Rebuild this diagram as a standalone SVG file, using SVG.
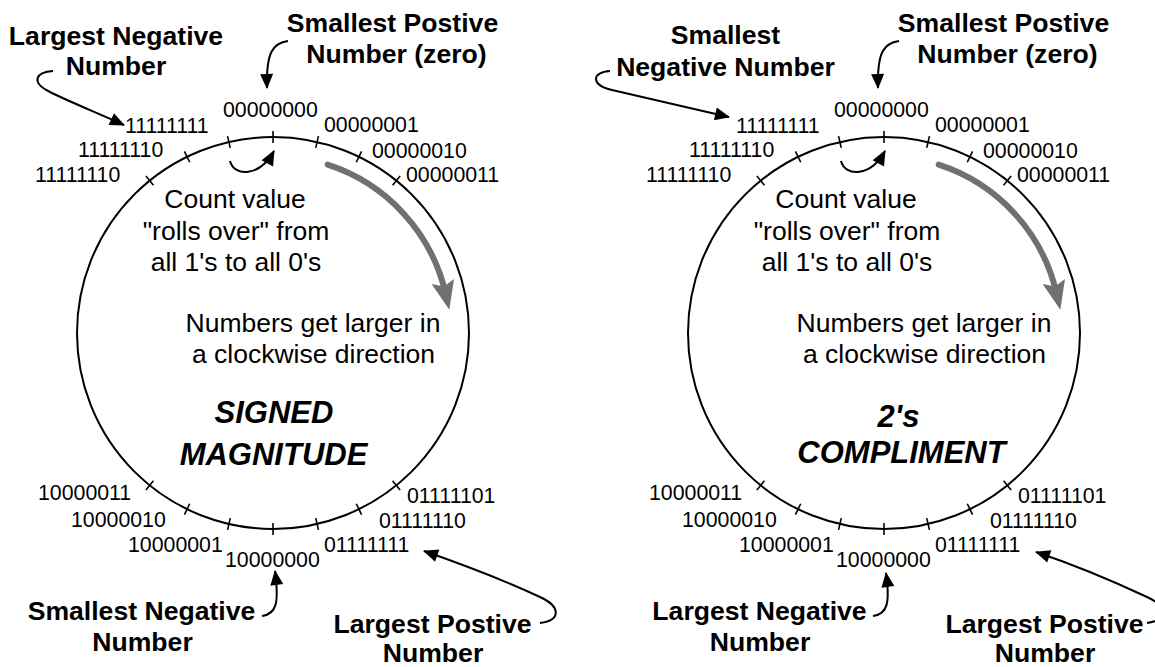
<svg xmlns="http://www.w3.org/2000/svg" width="1155" height="667" viewBox="0 0 1155 667">
<style>
.ring{fill:none;stroke:#000;stroke-width:2}
.tick{stroke:#000;stroke-width:1.6}
text{font-family:"Liberation Sans",Arial,Helvetica,sans-serif;fill:#000}
.bits{font-size:21.3px}
.lbl{font-size:26.6px;font-weight:bold;text-anchor:middle}
.note{font-size:26.5px;text-anchor:middle}
.title{font-size:31px;font-weight:bold;font-style:italic;text-anchor:middle}
.conn{fill:none;stroke:#000;stroke-width:2;marker-end:url(#ah)}
.gray{fill:none;stroke:#707070;stroke-width:6;stroke-linecap:round;marker-end:url(#gah)}
</style>
<defs>
<marker id="ah" markerUnits="userSpaceOnUse" markerWidth="16" markerHeight="14" refX="14" refY="6.5" orient="auto" overflow="visible">
<path d="M0,0 L15,6.5 L0,13 z" fill="#000"/>
</marker>
<marker id="gah" markerUnits="userSpaceOnUse" markerWidth="30" markerHeight="24" refX="12" refY="11.5" orient="auto" overflow="visible">
<path d="M0,0 L29,11.5 L0,23 L5,11.5 z" fill="#707070"/>
</marker>
</defs>

<g id="signed-magnitude">
<circle class="ring" cx="273" cy="333" r="196"/>
<g id="ticks-left">
<line class="tick" x1="273" y1="131" x2="273" y2="143"/>
<line class="tick" x1="273" y1="131" x2="273" y2="143" transform="rotate(13 273 333)"/>
<line class="tick" x1="273" y1="131" x2="273" y2="143" transform="rotate(26 273 333)"/>
<line class="tick" x1="273" y1="131" x2="273" y2="143" transform="rotate(39 273 333)"/>
<line class="tick" x1="273" y1="131" x2="273" y2="143" transform="rotate(-13 273 333)"/>
<line class="tick" x1="273" y1="131" x2="273" y2="143" transform="rotate(-26 273 333)"/>
<line class="tick" x1="273" y1="131" x2="273" y2="143" transform="rotate(-39 273 333)"/>
<line class="tick" x1="273" y1="523" x2="273" y2="535"/>
<line class="tick" x1="273" y1="523" x2="273" y2="535" transform="rotate(13 273 333)"/>
<line class="tick" x1="273" y1="523" x2="273" y2="535" transform="rotate(26 273 333)"/>
<line class="tick" x1="273" y1="523" x2="273" y2="535" transform="rotate(39 273 333)"/>
<line class="tick" x1="273" y1="523" x2="273" y2="535" transform="rotate(-13 273 333)"/>
<line class="tick" x1="273" y1="523" x2="273" y2="535" transform="rotate(-26 273 333)"/>
<line class="tick" x1="273" y1="523" x2="273" y2="535" transform="rotate(-39 273 333)"/>
</g>
<g id="bits-left">
<text class="bits" x="223" y="117">00000000</text>
<text class="bits" x="125" y="133">11111111</text>
<text class="bits" x="78" y="157">11111110</text>
<text class="bits" x="35" y="182">11111110</text>
<text class="bits" x="324" y="132">00000001</text>
<text class="bits" x="372" y="158">00000010</text>
<text class="bits" x="406" y="182">00000011</text>
<text class="bits" x="38" y="500">10000011</text>
<text class="bits" x="71" y="527">10000010</text>
<text class="bits" x="128" y="552">10000001</text>
<text class="bits" x="225" y="567">10000000</text>
<text class="bits" x="407" y="503">01111101</text>
<text class="bits" x="379" y="528">01111110</text>
<text class="bits" x="324" y="552">01111111</text>
</g>
<g id="notes-left">
<text class="note" x="235" y="208">Count value</text>
<text class="note" x="236" y="240">"rolls over" from</text>
<text class="note" x="236" y="271">all 1's to all 0's</text>
<text class="note" x="313" y="332">Numbers get larger in</text>
<text class="note" x="313.5" y="363">a clockwise direction</text>
<text class="title" x="274" y="423">SIGNED</text>
<text class="title" x="273.5" y="465">MAGNITUDE</text>
</g>
<g id="labels-left">
<text class="lbl" x="116" y="45">Largest Negative</text>
<text class="lbl" x="116" y="75">Number</text>
<text class="lbl" x="392.5" y="32">Smallest Postive</text>
<text class="lbl" x="396.5" y="63">Number (zero)</text>
<text class="lbl" x="141.5" y="620">Smallest Negative</text>
<text class="lbl" x="142.5" y="651">Number</text>
<text class="lbl" x="432.5" y="633">Largest Postive</text>
<text class="lbl" x="433" y="662">Number</text>
</g>
</g>

<g id="twos-complement">
<circle class="ring" cx="884" cy="333" r="196"/>
<g id="ticks-right">
<line class="tick" x1="884" y1="131" x2="884" y2="143"/>
<line class="tick" x1="884" y1="131" x2="884" y2="143" transform="rotate(13 884 333)"/>
<line class="tick" x1="884" y1="131" x2="884" y2="143" transform="rotate(26 884 333)"/>
<line class="tick" x1="884" y1="131" x2="884" y2="143" transform="rotate(39 884 333)"/>
<line class="tick" x1="884" y1="131" x2="884" y2="143" transform="rotate(-13 884 333)"/>
<line class="tick" x1="884" y1="131" x2="884" y2="143" transform="rotate(-26 884 333)"/>
<line class="tick" x1="884" y1="131" x2="884" y2="143" transform="rotate(-39 884 333)"/>
<line class="tick" x1="884" y1="523" x2="884" y2="535"/>
<line class="tick" x1="884" y1="523" x2="884" y2="535" transform="rotate(13 884 333)"/>
<line class="tick" x1="884" y1="523" x2="884" y2="535" transform="rotate(26 884 333)"/>
<line class="tick" x1="884" y1="523" x2="884" y2="535" transform="rotate(39 884 333)"/>
<line class="tick" x1="884" y1="523" x2="884" y2="535" transform="rotate(-13 884 333)"/>
<line class="tick" x1="884" y1="523" x2="884" y2="535" transform="rotate(-26 884 333)"/>
<line class="tick" x1="884" y1="523" x2="884" y2="535" transform="rotate(-39 884 333)"/>
</g>
<g id="bits-right">
<text class="bits" x="834" y="117">00000000</text>
<text class="bits" x="736" y="133">11111111</text>
<text class="bits" x="689" y="157">11111110</text>
<text class="bits" x="646" y="182">11111110</text>
<text class="bits" x="935" y="132">00000001</text>
<text class="bits" x="983" y="158">00000010</text>
<text class="bits" x="1017" y="182">00000011</text>
<text class="bits" x="649" y="500">10000011</text>
<text class="bits" x="682" y="527">10000010</text>
<text class="bits" x="739" y="552">10000001</text>
<text class="bits" x="836" y="567">10000000</text>
<text class="bits" x="1018" y="503">01111101</text>
<text class="bits" x="990" y="528">01111110</text>
<text class="bits" x="935" y="552">01111111</text>
</g>
<g id="notes-right">
<text class="note" x="846" y="208">Count value</text>
<text class="note" x="847" y="240">"rolls over" from</text>
<text class="note" x="847" y="271">all 1's to all 0's</text>
<text class="note" x="924" y="332">Numbers get larger in</text>
<text class="note" x="924.5" y="363">a clockwise direction</text>
<text class="title" x="898.5" y="427">2's</text>
<text class="title" x="901.5" y="463">COMPLIMENT</text>
</g>
<g id="labels-right">
<text class="lbl" x="725.5" y="44">Smallest</text>
<text class="lbl" x="725.5" y="76">Negative Number</text>
<text class="lbl" x="1003.5" y="32">Smallest Postive</text>
<text class="lbl" x="1007.5" y="63">Number (zero)</text>
<text class="lbl" x="759.5" y="620">Largest Negative</text>
<text class="lbl" x="760" y="651">Number</text>
<text class="lbl" x="1044.5" y="633">Largest Postive</text>
<text class="lbl" x="1045" y="662">Number</text>
</g>
</g>

<g id="connectors">
<path class="conn" d="M53,71 C36,72 30,82 50,92 C72,103 98,113 124,125"/>
<path class="conn" d="M288,41 C273,43 266,52 267,88"/>
<path class="conn" d="M230,161 C234,177 260,177 274,151"/>
<path class="conn" d="M262,616 C277,614 279,602 275,571"/>
<path class="conn" d="M540,623 C562,620 560,606 540,597 C510,583 470,567 424,551"/>
<path class="gray" d="M327.7,164.7 A177,177 0 0 1 445.5,293.2"/>
<path class="conn" d="M610,71 C592,72 590,85 612,90 C650,99 690,108 729,117"/>
<path class="conn" d="M899,41 C884,43 877,52 878,88"/>
<path class="conn" d="M841,161 C845,177 871,177 885,151"/>
<path class="conn" d="M873,616 C888,614 890,602 886,573"/>
<path class="conn" d="M1147,623 C1169,620 1167,606 1147,597 C1117,583 1081,567 1036,552"/>
<path class="gray" d="M938.7,164.7 A177,177 0 0 1 1056.5,293.2"/>
</g>
</svg>
